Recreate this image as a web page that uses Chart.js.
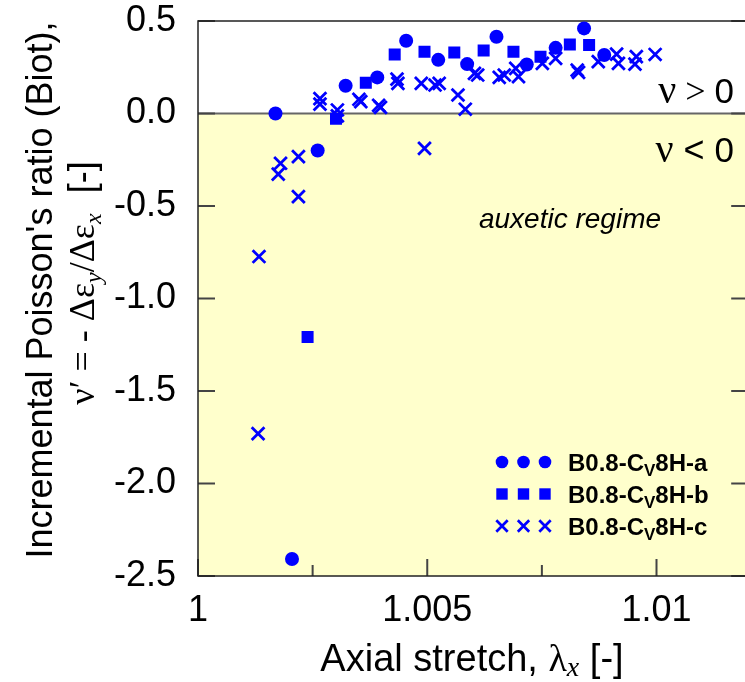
<!DOCTYPE html>
<html><head><meta charset="utf-8">
<script src="https://cdn.jsdelivr.net/npm/chart.js@4"></script>
<style>
html,body{margin:0;padding:0;overflow:hidden;background:#fff;}
#wrap{position:relative;width:760px;height:682px;}
</style></head><body>
<div id="wrap"><canvas id="c" width="760" height="682"></canvas></div>
<script>
// ---- data ----
const seriesNames = ['B0.8-C|V|8H-a', 'B0.8-C|V|8H-b', 'B0.8-C|V|8H-c'];

const aX = [1.00169, 1.00205, 1.00261, 1.00322, 1.00391, 1.00454, 1.00524, 1.00587, 1.00651, 1.00717, 1.00780, 1.00842, 1.00886];
const aY = [0.000, -2.408, -0.200, 0.150, 0.195, 0.393, 0.290, 0.267, 0.415, 0.265, 0.355, 0.460, 0.316];

const bX = [1.00239, 1.00301, 1.00366, 1.00429, 1.00494, 1.00559, 1.00623, 1.00688, 1.00747, 1.00811, 1.00853];
const bY = [-1.208, -0.028, 0.166, 0.319, 0.334, 0.330, 0.341, 0.334, 0.307, 0.373, 0.370];

const cX = [1.00131, 1.00133, 1.00175, 1.00180, 1.00219, 1.00219, 1.00266, 1.00266, 1.00304, 1.00304,
            1.00351, 1.00355, 1.00394, 1.00398, 1.00434, 1.00436, 1.00487, 1.00494, 1.00517, 1.00526,
            1.00567, 1.00583, 1.00603, 1.00610, 1.00657, 1.00668, 1.00693, 1.00699, 1.00751, 1.00780,
            1.00827, 1.00830, 1.00873, 1.00913, 1.00917, 1.00956, 1.00953, 1.00997];
const cY = [-1.730, -0.773, -0.328, -0.269, -0.233, -0.449, 0.080, 0.051, 0.019, -0.013,
            0.077, 0.064, 0.044, 0.033, 0.186, 0.163, 0.163, -0.188, 0.154, 0.163,
            0.100, 0.023, 0.217, 0.208, 0.195, 0.208, 0.244, 0.199, 0.271, 0.298,
            0.235, 0.222, 0.280, 0.321, 0.271, 0.307, 0.267, 0.319];

const xTickValues = [1, 1.005, 1.01];
const xTickLabels = ['1', '1.005', '1.01'];
const xMinorTicks = [1.0025, 1.0075];
const yTickValues = [0.5, 0.0, -0.5, -1.0, -1.5, -2.0, -2.5];
const yTickLabels = ['0.5', '0.0', '-0.5', '-1.0', '-1.5', '-2.0', '-2.5'];

// ---- styling ----
const BLUE = '#0000ff';
const SANS = '"Liberation Sans", Arial, sans-serif';
const SERIF = '"Liberation Serif", "Times New Roman", serif';

function pts(xs, ys){ return xs.map((x,i)=>({x:x, y:ys[i]})); }

function drawRich(ctx, segs, x, y, align){
  let w = 0;
  segs.forEach(s=>{ ctx.font = s[1]; w += ctx.measureText(s[0]).width; });
  let cx = align === 'center' ? x - w/2 : (align === 'right' ? x - w : x);
  ctx.textAlign = 'left';
  ctx.textBaseline = 'alphabetic';
  segs.forEach(s=>{ ctx.font = s[1]; ctx.fillText(s[0], cx, y + (s[2]||0)); cx += ctx.measureText(s[0]).width; });
}

function drawMarker(ctx, kind, x, y){
  ctx.save();
  ctx.fillStyle = BLUE; ctx.strokeStyle = BLUE;
  if (kind === 0){ ctx.beginPath(); ctx.arc(x, y, 6.3, 0, Math.PI*2); ctx.fill(); }
  else if (kind === 1){ ctx.fillRect(x-5.7, y-5.7, 11.4, 11.4); }
  else { ctx.lineWidth = 2.7; const h = 5.7; ctx.beginPath(); ctx.moveTo(x-h,y-h); ctx.lineTo(x+h,y+h); ctx.moveTo(x+h,y-h); ctx.lineTo(x-h,y+h); ctx.stroke(); }
  ctx.restore();
}

const decor = {
  id: 'decor',
  beforeDatasetsDraw(chart){
    const {ctx, chartArea: a, scales: {x, y}} = chart;
    const y0 = y.getPixelForValue(0);
    ctx.save();
    ctx.fillStyle = '#ffffff';
    ctx.fillRect(a.left, a.top, a.right-a.left, y0-a.top);
    ctx.fillStyle = '#ffffcc';
    ctx.fillRect(a.left, y0, a.right-a.left, a.bottom-y0);
    // zero line
    ctx.strokeStyle = '#666666'; ctx.lineWidth = 2;
    ctx.beginPath(); ctx.moveTo(a.left, y0); ctx.lineTo(a.right, y0); ctx.stroke();
    // ticks (inward)
    ctx.strokeStyle = '#444444'; ctx.lineWidth = 2;
    ctx.beginPath();
    yTickValues.forEach(v=>{ const p = y.getPixelForValue(v);
      ctx.moveTo(a.left, p); ctx.lineTo(a.left+17, p);
      ctx.moveTo(a.right, p); ctx.lineTo(a.right-17, p); });
    xTickValues.forEach(v=>{ const p = x.getPixelForValue(v);
      ctx.moveTo(p, a.bottom); ctx.lineTo(p, a.bottom-17); });
    xMinorTicks.forEach(v=>{ const p = x.getPixelForValue(v);
      ctx.moveTo(p, a.bottom); ctx.lineTo(p, a.bottom-11); });
    ctx.stroke();
    // frame
    ctx.strokeStyle = '#222222'; ctx.lineWidth = 1.5;
    ctx.strokeRect(a.left, a.top, a.right-a.left, a.bottom-a.top);
    ctx.restore();
  },
  afterDraw(chart){
    const {ctx} = chart;
    ctx.save();
    ctx.fillStyle = '#000';
    // region labels
    drawRich(ctx, [['ν', '40px '+SERIF], [' > ', '36px '+SERIF], ['0', '35px '+SANS]], 734, 103, 'right');
    drawRich(ctx, [['ν', '40px '+SERIF], [' < ', '36px '+SANS], ['0', '35px '+SANS]], 734, 162, 'right');
    drawRich(ctx, [['auxetic regime', 'italic 28px '+SANS]], 570, 228, 'center');
    // legend
    const rows = [462, 494, 526];
    rows.forEach((ry, k)=>{
      [502, 523.5, 545].forEach(mx=>drawMarker(ctx, k, mx, ry));
      const parts = seriesNames[k].split('|');
      drawRich(ctx, [[parts[0], 'bold 24px '+SANS], [parts[1], 'bold 17px '+SANS, 5], [parts[2], 'bold 24px '+SANS]], 568, ry + 8.5, 'left');
    });
    // x title
    drawRich(ctx, [['Axial stretch, ', '38px '+SANS], ['λ', '38px '+SERIF], ['x', 'italic 28px '+SERIF, 5], [' [-]', '38px '+SANS]], 472, 671, 'center');
    // y title (rotated)
    ctx.save();
    ctx.rotate(-Math.PI/2);
    drawRich(ctx, [["Incremental Poisson's ratio (Biot),", '36px '+SANS]], -290, 52, 'center');
    drawRich(ctx, [['ν′ = - Δε', '36px '+SERIF], ['y', 'italic 24px '+SERIF, 7], ['/Δε', '36px '+SERIF], ['x', 'italic 24px '+SERIF, 7], ['  [-]', '36px '+SANS]], -283, 94, 'center');
    ctx.restore();
    ctx.restore();
  }
};

new Chart(document.getElementById('c'), {
  type: 'scatter',
  data: {
    datasets: [
      {label: 'a', data: pts(aX, aY), pointStyle: 'circle', pointRadius: 7, backgroundColor: BLUE, borderColor: BLUE, borderWidth: 0, pointHoverRadius: 7},
      {label: 'b', data: pts(bX, bY), pointStyle: 'rect', pointRadius: 8.5, backgroundColor: BLUE, borderColor: BLUE, borderWidth: 0, pointHoverRadius: 8.5},
      {label: 'c', data: pts(cX, cY), pointStyle: 'crossRot', pointRadius: 9, backgroundColor: BLUE, borderColor: BLUE, borderWidth: 2.8, pointHoverRadius: 9}
    ]
  },
  options: {
    responsive: false,
    animation: false,
    devicePixelRatio: 1,
    layout: {padding: {top: 21, right: 8, left: 0, bottom: 0}},
    plugins: {legend: {display: false}, tooltip: {enabled: false}},
    events: [],
    scales: {
      x: {
        type: 'linear', min: 1, max: 1.012,
        border: {display: false},
        grid: {display: false, drawTicks: false},
        afterBuildTicks(s){ s.ticks = xTickValues.map(v=>({value: v})); },
        afterFit(s){ s.height = 106; s.paddingLeft = 0; s.paddingRight = 0; },
        ticks: {
          autoSkip: false, maxRotation: 0, padding: 13, color: '#000',
          font: {family: SANS, size: 36},
          callback(v){ const i = xTickValues.findIndex(t=>Math.abs(t-v)<1e-9); return i>=0 ? xTickLabels[i] : ''; }
        }
      },
      y: {
        type: 'linear', min: -2.5, max: 0.5,
        border: {display: false},
        grid: {display: false, drawTicks: false},
        afterBuildTicks(s){ s.ticks = yTickValues.map(v=>({value: v})); },
        afterFit(s){ s.width = 198; s.paddingTop = 0; s.paddingBottom = 0; },
        ticks: {
          autoSkip: false, padding: 22, color: '#000',
          font: {family: SANS, size: 36},
          callback(v){ const i = yTickValues.findIndex(t=>Math.abs(t-v)<1e-9); return i>=0 ? yTickLabels[i] : ''; }
        }
      }
    }
  },
  plugins: [decor]
});
</script>
</body></html>
